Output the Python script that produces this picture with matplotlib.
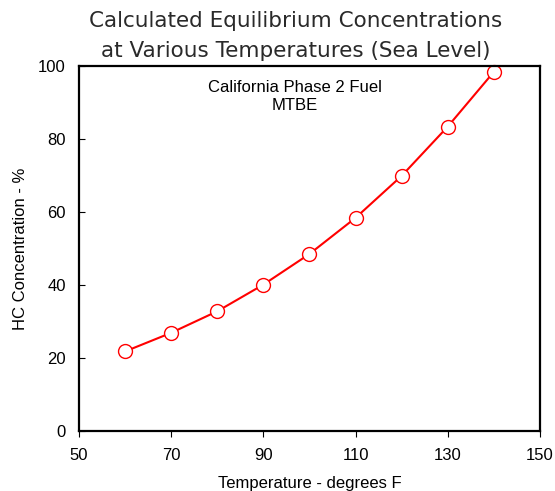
import matplotlib
matplotlib.use('Agg')
import matplotlib.pyplot as plt

temps = [60, 70, 80, 90, 100, 110, 120, 130, 140]
hc_conc = [21.8, 26.9, 32.8, 40.1, 48.5, 58.4, 69.9, 83.4, 98.4]

xticks = [50, 70, 90, 110, 130, 150]
yticks = [0, 20, 40, 60, 80, 100]

fig = plt.figure(figsize=(5.55, 4.91), dpi=100, facecolor='white')
ax = fig.add_axes([0.1423, 0.1222, 0.8306, 0.7434])

ax.plot(temps, hc_conc, color='red', lw=1.5, marker='o', ms=10,
        mfc='white', mec='red', mew=1.0, clip_on=False)

ax.set_xlim(50, 150)
ax.set_ylim(0, 100)
ax.set_xticks(xticks)
ax.set_yticks(yticks)
for s in ax.spines.values():
    s.set_linewidth(1.6)
ax.tick_params(axis='x', direction='out', length=4, width=0.8, labelsize=12, pad=8.5)
ax.tick_params(axis='y', direction='in', length=4, width=0.8, labelsize=12, pad=9.5)
for lab in ax.get_xticklabels() + ax.get_yticklabels():
    lab.set_family('Liberation Sans')

ax.set_xlabel('Temperature - degrees F', family='Liberation Sans', fontsize=12)
ax.set_ylabel('HC Concentration - %', family='Liberation Sans', fontsize=12)
ax.xaxis.set_label_coords(0.5, -0.123)
ax.yaxis.set_label_coords(-0.111, 0.5)

ax.text(0.469, 0.916, 'California Phase 2 Fuel\nMTBE', transform=ax.transAxes,
        ha='center', va='center', family='Liberation Sans', fontsize=12,
        linespacing=1.25)

fig.text(0.532, 0.927, 'Calculated Equilibrium Concentrations\nat Various Temperatures (Sea Level)',
         ha='center', va='center', fontsize=15.5, linespacing=1.6, color='#2a2a2a')

plt.savefig('out.png', dpi=100)
